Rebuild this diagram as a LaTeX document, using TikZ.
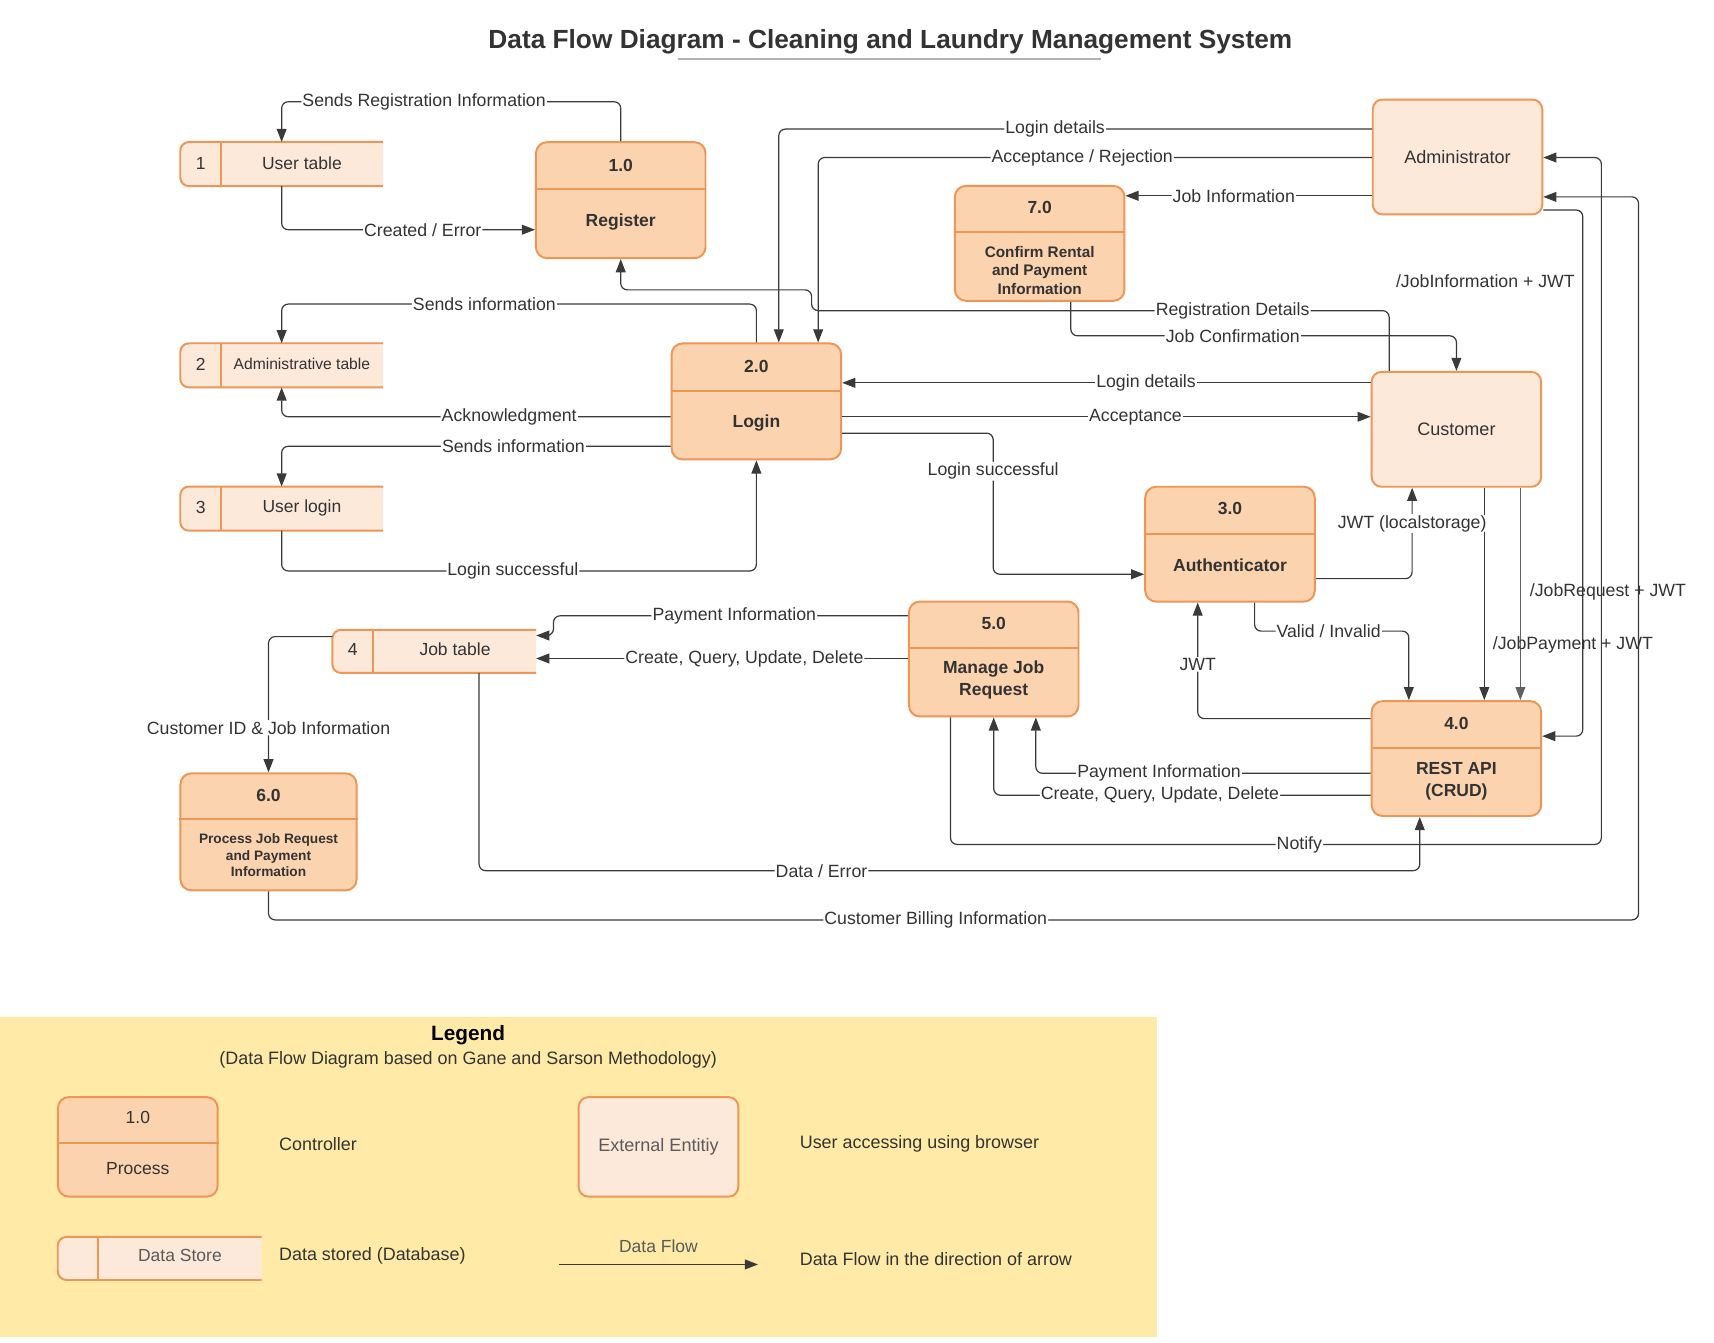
\documentclass[tikz,border=0pt]{standalone}
\usepackage{fontspec}
\setmainfont{Liberation Sans}
\usetikzlibrary{arrows.meta}
\definecolor{procfill}{RGB}{252,211,175}
\definecolor{procline}{RGB}{237,150,86}
\definecolor{entfill}{RGB}{253,233,218}
\definecolor{legbg}{RGB}{255,235,167}
\definecolor{ink}{RGB}{51,51,51}
\definecolor{wire}{RGB}{58,58,58}
\definecolor{soft}{RGB}{90,90,90}
\tikzset{
 proc/.style={draw=procline, fill=procfill, line width=1.8pt, rounded corners=10pt, minimum width=155pt, minimum height=106pt, inner sep=0pt},
 ent/.style={draw=procline, fill=entfill, line width=1.8pt, rounded corners=9pt, minimum width=155pt, minimum height=105pt, inner sep=0pt, text=ink, font=\fontsize{16.5}{20}\selectfont},
 dsarea/.style={minimum width=185pt, minimum height=40pt, inner sep=0pt},
 dsedge/.style={draw=procline, fill=entfill, line width=1.8pt, rounded corners=8pt},
 divider/.style={draw=procline, line width=1.8pt},
 pnum/.style={text=ink, font=\fontsize{16}{19}\selectfont\bfseries},
 pname/.style={text=ink, font=\fontsize{16}{20}\selectfont\bfseries, align=center},
 dstext/.style={text=ink, font=\fontsize{16}{19}\selectfont},
 flow/.style={draw=wire, line width=1.1pt, rounded corners=6pt, -{Triangle[length=12pt,width=9pt]}},
 lbl/.style={fill=white, text=ink, inner sep=1pt, font=\fontsize{16.2}{19}\selectfont},
 freelbl/.style={text=ink, inner sep=1pt, font=\fontsize{16.2}{19}\selectfont},
 legtext/.style={text=ink, anchor=west, inner sep=0pt, font=\fontsize{16.4}{19}\selectfont},
}
\begin{document}
\begin{tikzpicture}[x=1pt,y=-1pt]
\useasboundingbox (0,0) rectangle (1567,1227);
\fill[white] (0,0) rectangle (1567,1227);

% title
\node[text=ink, font=\fontsize{24}{29}\selectfont\bfseries] (title) at (814,38) {Data Flow Diagram - Cleaning and Laundry Management System};
\coordinate (ula) at (620,54);
\coordinate (ulb) at (1007,54);
\draw[gray!60, line width=1.3pt] (ula) -- (ulb);

% ---------- processes ----------
\node[proc] (p1) at (567.5,183) {};
\draw[divider] ([yshift=-44pt]p1.north west) -- ([yshift=-44pt]p1.north east);
\node[pnum] (p1n) at (567.5,151) {1.0};
\node[pname] (p1t) at (567.5,203) {Register};

\node[proc] (p2) at (691.5,367) {};
\draw[divider] ([yshift=-44pt]p2.north west) -- ([yshift=-44pt]p2.north east);
\node[pnum] (p2n) at (691.5,335) {2.0};
\node[pname] (p2t) at (691.5,387) {Login};

\node[proc, minimum height=105pt] (p7) at (950.5,222.5) {};
\draw[divider] ([yshift=-43pt]p7.north west) -- ([yshift=-43pt]p7.north east);
\node[pnum] (p7n) at (950.5,190) {7.0};
\node[pname, font=\fontsize{14}{17}\selectfont\bfseries] (p7t) at (950.5,247) {Confirm Rental\\and Payment\\Information};

\node[proc, minimum height=105pt] (p3) at (1124.5,497.5) {};
\draw[divider] ([yshift=-44pt]p3.north west) -- ([yshift=-44pt]p3.north east);
\node[pnum] (p3n) at (1124.5,465) {3.0};
\node[pname] (p3t) at (1124.5,517) {Authenticator};

\node[proc, minimum height=105pt] (p5) at (908.5,602.5) {};
\draw[divider] ([yshift=-43pt]p5.north west) -- ([yshift=-43pt]p5.north east);
\node[pnum] (p5n) at (908.5,570) {5.0};
\node[pname] (p5t) at (908.5,622) {Manage Job\\Request};

\node[proc, minimum height=105pt] (p4) at (1331.5,693.5) {};
\draw[divider] ([yshift=-44pt]p4.north west) -- ([yshift=-44pt]p4.north east);
\node[pnum] (p4n) at (1331.5,661) {4.0};
\node[pname] (p4t) at (1331.5,714) {REST API\\(CRUD)};

\node[proc, minimum width=161pt, minimum height=107pt] (p6) at (245.5,760.5) {};
\draw[divider] ([yshift=-43pt]p6.north west) -- ([yshift=-43pt]p6.north east);
\node[pnum] (p6n) at (245.5,727) {6.0};
\node[pname, font=\fontsize{12.5}{15}\selectfont\bfseries] (p6t) at (245.5,782) {Process Job Request\\and Payment\\Information};

% ---------- external entities ----------
\node[ent] (eA) at (1332.5,143.5) {Administrator};
\node[ent] (eC) at (1331.5,392.5) {Customer};

% ---------- data stores ----------
\node[dsarea] (ds1) at (257.5,150) {};
\path[dsedge] (ds1.north east) -- (ds1.north west) -- (ds1.south west) -- (ds1.south east);
\draw[divider] ([xshift=37pt]ds1.north west) -- ([xshift=37pt]ds1.south west);
\node[dstext] (ds1i) at (183.5,149) {1};
\node[dstext] (ds1t) at (276,149) {User table};

\node[dsarea] (ds2) at (257.5,334) {};
\path[dsedge] (ds2.north east) -- (ds2.north west) -- (ds2.south west) -- (ds2.south east);
\draw[divider] ([xshift=37pt]ds2.north west) -- ([xshift=37pt]ds2.south west);
\node[dstext] (ds2i) at (183.5,333) {2};
\node[dstext, font=\fontsize{14.3}{17}\selectfont] (ds2t) at (276,333) {Administrative table};

\node[dsarea] (ds3) at (257.5,465) {};
\path[dsedge] (ds3.north east) -- (ds3.north west) -- (ds3.south west) -- (ds3.south east);
\draw[divider] ([xshift=37pt]ds3.north west) -- ([xshift=37pt]ds3.south west);
\node[dstext] (ds3i) at (183.5,464) {3};
\node[dstext] (ds3t) at (276,464) {User login};

\node[dsarea, minimum width=186pt, minimum height=39pt] (ds4) at (397,595.5) {};
\path[dsedge] (ds4.north east) -- (ds4.north west) -- (ds4.south west) -- (ds4.south east);
\draw[divider] ([xshift=37pt]ds4.north west) -- ([xshift=37pt]ds4.south west);
\node[dstext] (ds4i) at (322.5,594) {4};
\node[dstext] (ds4t) at (416,594) {Job table};

% ---------- flows ----------
\draw[flow] (p1.north) -- (567.5,93) -- node[lbl,pos=0.58] (f1) {Sends Registration Information} (257.5,93) -- (ds1.north);
\draw[flow] (ds1.south) -- (257.5,210) -- node[lbl,pos=0.557] (f2) {Created / Error} ([yshift=-27pt]p1.west);
\draw[flow] ([xshift=-61.5pt]eC.north) -- (1270,284) -- node[lbl,pos=0.271] (f3) {Registration Details} (742,284) -- (742,265) -- (567.5,265) -- (p1.south);
\draw[flow] ([yshift=25.5pt]eA.west) -- node[lbl,pos=0.534] (f4) {Login details} (712,118) -- ([xshift=20.5pt]p2.north);
\draw[flow] ([yshift=-0.5pt]eA.west) -- node[lbl,pos=0.523] (f5) {Acceptance / Rejection} (748,144) -- ([xshift=56.5pt]p2.north);
\draw[flow] ([yshift=-35.5pt]eA.west) -- node[lbl,pos=0.56] (f6) {Job Information} ([yshift=43.5pt]p7.east);
\draw[flow] ([xshift=28.5pt]p7.south) -- (979,307) -- node[lbl,pos=0.42] (f7) {Job Confirmation} (1331.5,307) -- (eC.north);
\draw[flow] ([yshift=-48.5pt]eA.east) -- (1447,192) -- (1447,673) -- ([yshift=20.5pt]p4.east);
\node[freelbl] (f8) at (1358,257) {/JobInformation + JWT};
\draw[flow] ([xshift=-39.5pt]p5.south) -- (869,772) -- node[lbl,pos=0.536] (f9) {Notify} (1464,772) -- (1464,144) -- ([yshift=-0.5pt]eA.east);
\draw[flow] (p6.south) -- (245.5,841) -- node[lbl,pos=0.487] (f10) {Customer Billing Information} (1498,841) -- (1498,180) -- ([yshift=-36.5pt]eA.east);
\draw[flow] ([xshift=25.5pt]eC.south) -- ([xshift=25.5pt]p4.north);
\draw[flow, draw=wire!80] ([xshift=58.5pt]eC.south) -- ([xshift=58.5pt]p4.north);
\node[freelbl] (f11) at (1438,590) {/JobPayment + JWT};
\node[freelbl] (f12) at (1470,541) {/JobRequest + JWT};
\draw[flow] ([yshift=-31.5pt]p3.east) -- (1291,529) -- node[lbl,pos=0.607] (f13) {JWT (localstorage)} ([xshift=-40.5pt]eC.south);
\draw[flow] ([xshift=22.5pt]p3.south) -- (1147,577) -- node[lbl,pos=0.48] (f14) {Valid / Invalid} (1288,577) -- ([xshift=-43.5pt]p4.north);
\draw[flow] ([yshift=36.5pt]p4.west) -- (1095,657) -- node[lbl,pos=0.467] (f15) {JWT} ([xshift=-29.5pt]p3.south);
\draw[flow] ([yshift=-29pt]p2.east) -- (908,396) -- node[lbl,pos=0.27] (f16) {Login successful} (908,525) -- ([yshift=-27.5pt]p3.west);
\draw[flow] ([yshift=42.5pt]eC.west) -- node[lbl,pos=0.425] (f17) {Login details} ([yshift=17pt]p2.east);
\draw[flow] ([yshift=-14pt]p2.east) -- node[lbl,pos=0.555] (f18) {Acceptance} ([yshift=11.5pt]eC.west);
\draw[flow] (p2.north) -- (691.5,278) -- node[lbl,pos=0.573] (f19) {Sends information} (257.5,278) -- (ds2.north);
\draw[flow] ([yshift=-14pt]p2.west) -- node[lbl,pos=0.415] (f20) {Acknowledgment} (257.5,381) -- (ds2.south);
\draw[flow] ([yshift=-41pt]p2.west) -- node[lbl,pos=0.404] (f21) {Sends information} (257.5,408) -- (ds3.north);
\draw[flow] (ds3.south) -- (257.5,522) -- node[lbl,pos=0.487] (f22) {Login successful} (691.5,522) -- (p2.south);
\draw[flow] ([yshift=39.5pt]p5.west) -- node[lbl,pos=0.49] (f23) {Payment Information} (506,563) -- (506,581) -- ([yshift=14.5pt]ds4.east);
\draw[flow] ([yshift=0.5pt]p5.west) -- node[lbl,pos=0.44] (f24) {Create, Query, Update, Delete} ([yshift=-6.5pt]ds4.east);
\draw[flow] ([yshift=13.5pt]ds4.west) -- (245.5,582) -- node[lbl,pos=0.672] (f25) {Customer ID \& Job Information} (p6.north);
\draw[flow] ([xshift=41pt]ds4.south) -- (438,796) -- node[lbl,pos=0.364] (f26) {Data / Error} (1298,796) -- ([xshift=-33.5pt]p4.south);
\draw[flow] ([yshift=-13.5pt]p4.west) -- node[lbl,pos=0.632] (f27) {Payment Information} (947,707) -- ([xshift=38.5pt]p5.south);
\draw[flow] ([yshift=-33.5pt]p4.west) -- node[lbl,pos=0.559] (f28) {Create, Query, Update, Delete} (908.5,727) -- (p5.south);

% ---------- legend ----------
\fill[legbg] (0,930) rectangle (1058,1222);
\node[text=black, font=\fontsize{19}{23}\selectfont\bfseries] (legt) at (428,946) {Legend};
\node[text=ink, font=\fontsize{16.4}{19}\selectfont] (legs) at (428,969) {(Data Flow Diagram based on Gane and Sarson Methodology)};

\node[proc, minimum width=146pt, minimum height=91pt] (lp) at (126,1048.5) {};
\draw[divider] ([yshift=-43pt]lp.north west) -- ([yshift=-43pt]lp.north east);
\node[text=ink, font=\fontsize{16}{19}\selectfont] (lpn) at (126,1022) {1.0};
\node[text=ink, font=\fontsize{16}{19}\selectfont] (lpt) at (126,1068) {Process};
\node[legtext] (lpd) at (255,1046) {Controller};

\node[ent, minimum width=146pt, minimum height=91pt, text=soft] (le) at (602,1048.5) {External Entitiy};
\node[legtext] (led) at (731,1046) {User accessing using browser};

\node[dsarea, minimum width=186pt, minimum height=39pt] (lds) at (146,1150.5) {};
\path[dsedge] (lds.north east) -- (lds.north west) -- (lds.south west) -- (lds.south east);
\draw[divider] ([xshift=37pt]lds.north west) -- ([xshift=37pt]lds.south west);
\node[dstext, text=soft] (ldst) at (164.5,1148) {Data Store};
\node[legtext] (ldsd) at (255,1148) {Data stored (Database)};

\coordinate (dfa) at (511,1156);
\coordinate (dfb) at (693,1156);
\draw[flow] (dfa) -- node[above=10pt, text=soft, inner sep=0pt, font=\fontsize{16}{19}\selectfont] (dfl) {Data Flow} (dfb);
\node[legtext] (dfd) at (731,1151) {Data Flow in the direction of arrow};
\end{tikzpicture}
\end{document}
